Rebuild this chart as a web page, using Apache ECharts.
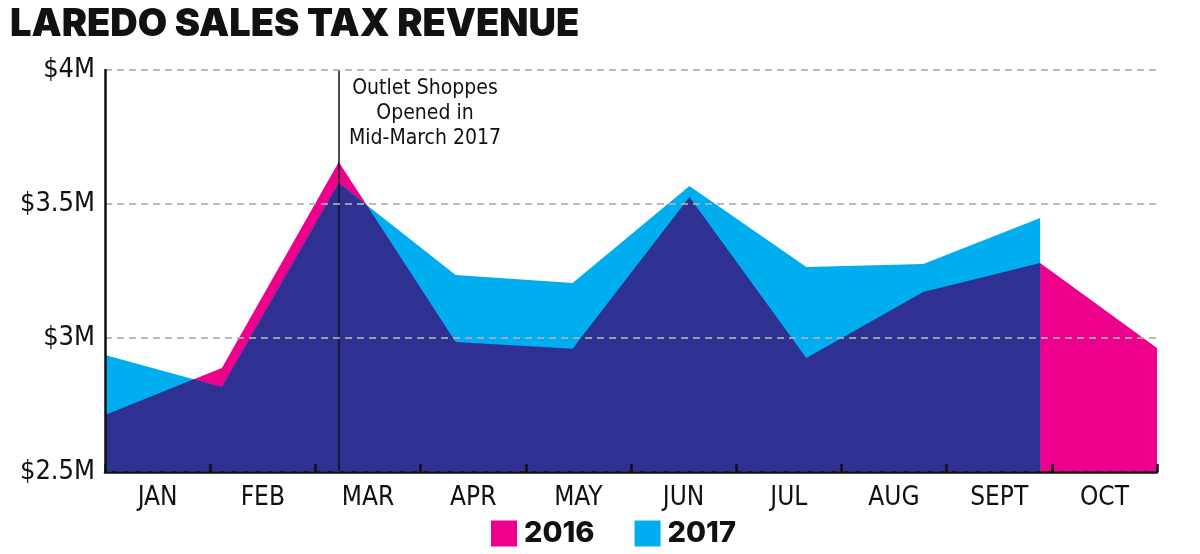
<!DOCTYPE html>
<html>
<head>
<meta charset="utf-8">
<script src="https://cdn.jsdelivr.net/npm/echarts@6/dist/echarts.min.js"></script>
<style>
html,body{margin:0;padding:0;background:#fff;}
#chart{width:1200px;height:554px;}
</style>
</head>
<body>
<div id="chart"></div>
<script>
// ---- data ----
const months = ['JAN', 'FEB', 'MAR', 'APR', 'MAY', 'JUN', 'JUL', 'AUG', 'SEPT', 'OCT'];
const sales2016 = [2.713, 2.888, 3.657, 2.985, 2.960, 3.526, 2.925, 3.172, 3.280, 2.963];
const sales2017 = [2.937, 2.817, 3.578, 3.235, 3.205, 3.567, 3.265, 3.276, 3.448];
const yMin = 2.5, yMax = 4, yStep = 0.5;
const annotationIndex = 2; // MAR
const annotationText = ['Outlet Shoppes', 'Opened in', 'Mid-March 2017'];
const titleText = 'LAREDO SALES TAX REVENUE';

// ---- style ----
const PINK = '#EC008C', CYAN = '#00AEEF', NAVY = '#2E3192';
const COND = '"Liberation Sans Narrow", "DejaVu Sans Condensed", "Noto Sans", sans-serif';

const chart = echarts.init(document.getElementById('chart'), null, {renderer: 'canvas'});

function pairs(arr) { return arr.map((v, i) => [i, v]); }

function overlapItem(params, api) {
  if (params.dataIndex !== 0) return null;
  const a = sales2016, b = sales2017;
  const n = Math.min(a.length, b.length);
  const pts = [];
  for (let i = 0; i < n; i++) {
    pts.push(api.coord([i, Math.min(a[i], b[i])]));
    if (i < n - 1) {
      const d0 = a[i] - b[i], d1 = a[i + 1] - b[i + 1];
      if (d0 * d1 < 0) {
        const t = d0 / (d0 - d1);
        pts.push(api.coord([i + t, a[i] + t * (a[i + 1] - a[i])]));
      }
    }
  }
  pts.push(api.coord([n - 1, yMin]));
  pts.push(api.coord([0, yMin]));
  return {type: 'polygon', shape: {points: pts}, style: {fill: NAVY}};
}

const option = {
  animation: false,
  backgroundColor: '#fff',
  title: {
    text: titleText, left: 5, top: 1,
    textStyle: {fontFamily: 'Inter, sans-serif', fontWeight: 900, fontSize: 38, color: '#111'}
  },
  legend: {
    data: ['2016', '2017'], left: 486, top: 514, icon: 'rect',
    itemWidth: 26, itemHeight: 26, itemGap: 40,
    textStyle: {fontFamily: 'Inter, sans-serif', fontWeight: 800, fontSize: 29, color: '#111', padding: [0, 0, 0, 2]}
  },
  grid: {left: 105, right: 43, top: 70, bottom: 82, containLabel: false},
  xAxis: [{
    type: 'category', data: months, boundaryGap: true, z: 10,
    axisLine: {show: true, lineStyle: {color: '#111', width: 2.5}},
    axisTick: {show: true, inside: true, length: 8, lineStyle: {color: '#111', width: 2.5}},
    axisLabel: {margin: 13, fontFamily: COND, fontSize: 26, color: '#111'},
    splitLine: {show: false}
  }, {
    type: 'value', min: 0, max: months.length - 1, show: false
  }],
  yAxis: {
    type: 'value', min: yMin, max: yMax, interval: yStep, z: 10,
    axisLine: {show: true, lineStyle: {color: '#111', width: 2.5}},
    axisTick: {show: false},
    axisLabel: {margin: 10, fontFamily: COND, fontSize: 27, color: '#111',
      formatter: v => '$' + v + 'M'},
    splitLine: {show: true, lineStyle: {color: 'rgba(175,175,175,0.85)', width: 2, type: [7, 5]}}
  },
  series: [{
    name: '2016', type: 'line', xAxisIndex: 1, data: pairs(sales2016),
    symbol: 'none', lineStyle: {width: 0}, itemStyle: {color: PINK},
    areaStyle: {color: PINK, opacity: 1, origin: 'start'}, z: 2
  }, {
    name: '2017', type: 'line', xAxisIndex: 1, data: pairs(sales2017),
    symbol: 'none', lineStyle: {width: 0}, itemStyle: {color: CYAN},
    areaStyle: {color: CYAN, opacity: 1, origin: 'start'}, z: 3
  }, {
    name: 'overlap', type: 'custom', xAxisIndex: 1, data: [[0, yMin]],
    renderItem: overlapItem, z: 4, silent: true
  }, {
    name: 'annotation', type: 'line', xAxisIndex: 1, data: [], z: 12,
    markLine: {
      silent: true, symbol: 'none', animation: false,
      lineStyle: {color: '#111', width: 1.5, type: 'solid'},
      label: {show: false},
      data: [{xAxis: annotationIndex}]
    }
  }],
  graphic: [{
    type: 'text', x: 425, y: 76, z: 20,
    style: {
      text: annotationText.join('\n'), align: 'center', verticalAlign: 'top',
      fontFamily: COND, fontSize: 21, lineHeight: 25, fill: '#111'
    }
  }]
};
chart.setOption(option);
</script>
</body>
</html>
